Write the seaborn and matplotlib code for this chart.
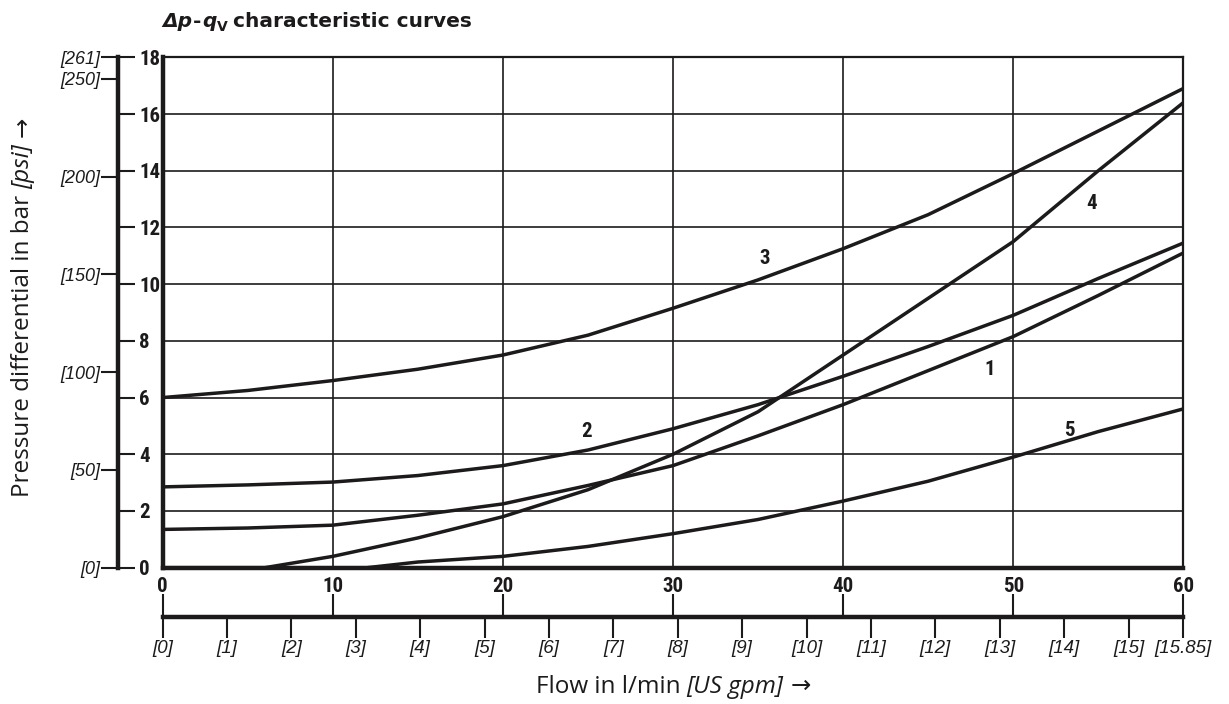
import matplotlib
matplotlib.use("Agg")
import matplotlib.pyplot as plt
from matplotlib import font_manager as fm
from matplotlib.font_manager import FontProperties
import numpy as np
import pandas as pd
import seaborn as sns

# ---------------- data ----------------
flow_c123 = [0, 5, 10, 15, 20, 25, 30, 35, 40, 45, 50, 55, 60]
curve1 = [1.35, 1.4, 1.5, 1.85, 2.25, 2.9, 3.6, 4.65, 5.75, 6.95, 8.15, 9.6, 11.1]
curve2 = [2.85, 2.92, 3.02, 3.25, 3.6, 4.15, 4.9, 5.75, 6.75, 7.8, 8.9, 10.2, 11.45]
curve3 = [6.0, 6.25, 6.6, 7.0, 7.5, 8.2, 9.15, 10.15, 11.25, 12.45, 13.9, 15.4, 16.9]
flow_c4 = [0, 6, 10, 15, 20, 25, 30, 35, 40, 45, 50, 55, 60]
curve4 = [0, 0, 0.4, 1.05, 1.8, 2.75, 4.0, 5.5, 7.5, 9.5, 11.5, 14.0, 16.4]
flow_c5 = [0, 12, 15, 20, 25, 30, 35, 40, 45, 50, 55, 60]
curve5 = [0, 0, 0.2, 0.4, 0.75, 1.2, 1.7, 2.35, 3.05, 3.9, 4.8, 5.6]

curve_names = ["1", "2", "3", "4", "5"]
bar_ticks = [0, 2, 4, 6, 8, 10, 12, 14, 16, 18]
psi_ticks = [0, 50, 100, 150, 200, 250, 261]
psi_labels = ["[0]", "[50]", "[100]", "[150]", "[200]", "[250]", "[261]"]
lpm_ticks = [0, 10, 20, 30, 40, 50, 60]
gpm_ticks = [0, 1, 2, 3, 4, 5, 6, 7, 8, 9, 10, 11, 12, 13, 14, 15, 15.85]
gpm_labels = ["[0]", "[1]", "[2]", "[3]", "[4]", "[5]", "[6]", "[7]", "[8]",
              "[9]", "[10]", "[11]", "[12]", "[13]", "[14]", "[15]", "[15.85]"]

BAR_TO_PSI = 14.5038
GPM_TO_LPM = 3.785411784

# label positions (flow l/min, bar)
label_pos = {"1": (48.6, 7.0), "2": (24.9, 4.8), "3": (35.4, 10.9),
             "4": (54.6, 12.85), "5": (53.3, 4.85)}

# ---------------- style ----------------
sns.set_theme(style="white")
plt.rcParams["font.family"] = ["Liberation Sans", "DejaVu Sans"]

INK = "#1c1a1a"


def _is_bold(f):
    w = f.weight
    if isinstance(w, (int, float)):
        return w >= 600
    return str(w).lower() in ("bold", "semibold", "demibold", "heavy",
                              "black", "extra bold", "600", "700", "800")


def _pick(preds):
    for pred in preds:
        for f in fm.fontManager.ttflist:
            try:
                if pred(f):
                    return f.fname
            except Exception:
                pass
    return None


narrow_path = _pick([
    lambda f: f.name == "Liberation Sans Narrow" and _is_bold(f) and f.style == "normal",
    lambda f: f.name == "Roboto Condensed" and _is_bold(f) and f.style == "normal",
    lambda f: ("Condensed" in f.name or "Narrow" in f.name) and _is_bold(f)
    and f.style == "normal",
    lambda f: str(f.stretch) in ("condensed", "semi-condensed") and _is_bold(f)
    and f.style == "normal",
])


def narrow(size):
    if narrow_path:
        return FontProperties(fname=narrow_path, size=size)
    return FontProperties(family=["Liberation Sans"], weight="bold", size=size)


frames = []
for name, fx, fy in zip(curve_names,
                        [flow_c123, flow_c123, flow_c123, flow_c4, flow_c5],
                        [curve1, curve2, curve3, curve4, curve5]):
    frames.append(pd.DataFrame({"flow": fx, "dp": fy, "curve": name}))
df = pd.concat(frames, ignore_index=True)

W, H = 1229, 704


def box(l, t, r, b):
    return [l / W, 1 - b / H, (r - l) / W, (b - t) / H]


fig = plt.figure(figsize=(W / 100, H / 100), dpi=100)
fig.patch.set_facecolor("white")

X0, X1, YT, YB = 162.7, 1183.3, 57.3, 567.7
ax = fig.add_axes(box(X0, YT, X1, YB))
ax.set_facecolor("white")

sns.lineplot(data=df, x="flow", y="dp", hue="curve", units="curve",
             estimator=None, sort=False, legend=False,
             palette={n: INK for n in curve_names}, linewidth=2.5, ax=ax,
             zorder=3)

ax.set_xlim(0, 60)
ax.set_ylim(0, 18)
ax.set_xticks(lpm_ticks)
ax.set_yticks(bar_ticks)
ax.grid(True, color=INK, linewidth=1.2)
ax.set_axisbelow(True)
ax.set_xlabel("")
ax.set_ylabel("")
ax.tick_params(axis="y", left=False, labelleft=False, length=0)
ax.tick_params(axis="x", bottom=False, length=0, pad=7, colors=INK)
for lab in ax.get_xticklabels():
    lab.set_fontproperties(narrow(15))
for s in ["left", "bottom"]:
    ax.spines[s].set_linewidth(3.2)
    ax.spines[s].set_color(INK)
for s in ["top", "right"]:
    ax.spines[s].set_linewidth(1.6)
    ax.spines[s].set_color(INK)
for s in ax.spines.values():
    s.set_zorder(4)

for name, (lx, ly) in label_pos.items():
    ax.text(lx, ly, name, fontproperties=narrow(15), color=INK,
            ha="center", va="center", zorder=5)

# ---------------- psi / bar scale on the left ----------------
PX = 118.0
ax_psi = fig.add_axes(box(PX, YT, PX + 0.3, YB))
ax_psi.patch.set_visible(False)
ax_psi.set_ylim(0, 18 * BAR_TO_PSI)
ax_psi.set_xticks([])
ax_psi.set_yticks(psi_ticks)
ax_psi.set_yticklabels(psi_labels)
ax_psi.tick_params(axis="y", direction="out", length=12, width=1.5,
                   pad=1, colors=INK, labelsize=13)
for lab in ax_psi.get_yticklabels():
    lab.set_fontstyle("italic")
for s in ["top", "right", "bottom"]:
    ax_psi.spines[s].set_visible(False)
ax_psi.spines["left"].set_linewidth(3.2)
ax_psi.spines["left"].set_color(INK)

ax_bar = ax_psi.twinx()
ax_bar.set_ylim(0, 18)
ax_bar.set_yticks(bar_ticks)
ax_bar.set_yticklabels([str(t) for t in bar_ticks])
ax_bar.tick_params(axis="y", direction="out", length=12, width=1.5, pad=3,
                   colors=INK)
for lab in ax_bar.get_yticklabels():
    lab.set_fontproperties(narrow(15))
for s in ax_bar.spines.values():
    s.set_visible(False)

# ---------------- l/min / gpm scale at the bottom ----------------
FY = 616.5
ax_fl = fig.add_axes(box(X0, FY - 0.3, X1, FY))
ax_fl.patch.set_visible(False)
ax_fl.set_xlim(0, 60 / GPM_TO_LPM)
ax_fl.set_yticks([])
ax_fl.set_xticks(gpm_ticks)
ax_fl.set_xticklabels(gpm_labels)
ax_fl.tick_params(axis="x", direction="out", length=15, width=1.5, pad=2,
                  colors=INK, labelsize=13.5)
for lab in ax_fl.get_xticklabels():
    lab.set_fontstyle("italic")
for s in ["top", "left", "right"]:
    ax_fl.spines[s].set_visible(False)
ax_fl.spines["bottom"].set_linewidth(3.2)
ax_fl.spines["bottom"].set_color(INK)

ax_fl2 = ax_fl.twiny()
ax_fl2.set_xlim(0, 60)
ax_fl2.set_xticks(lpm_ticks)
ax_fl2.tick_params(axis="x", direction="out", length=16, width=1.5,
                   labeltop=False, colors=INK)
for s in ax_fl2.spines.values():
    s.set_visible(False)

# ---------------- texts built from pieces ----------------
renderer = fig.canvas.get_renderer()


def chain(pieces, x_px, y_px, rotation=0, center=True):
    """pieces: list of (text, props, (gap_px, shift_px))."""
    texts = []
    for s, kw, _ in pieces:
        t = fig.text(0, 0, s, rotation=rotation, rotation_mode="anchor",
                     ha="left", va="baseline", color=INK, **kw)
        texts.append(t)
    lengths = []
    for t in texts:
        bb = t.get_window_extent(renderer)
        lengths.append(bb.height if rotation == 90 else bb.width)
    total = sum(lengths) + sum(p[2][0] for p in pieces)
    pos = -total / 2 if center else 0.0
    for t, L, (_, _, off) in zip(texts, lengths, pieces):
        gap, shift = off
        pos += gap
        if rotation == 90:
            t.set_position(((x_px + shift) / W, 1 - (y_px - pos) / H))
        else:
            t.set_position(((x_px + pos) / W, 1 - (y_px + shift) / H))
        pos += L
    return texts


LBL = ["Open Sans", "DejaVu Sans"]
TTL = ["DejaVu Sans"]
ARW = ["DejaVu Sans"]
FS = 17.5
SP = 6.5
TS = 14.5

# title
chain([
    ("Δp", dict(family=TTL, weight="bold", style="italic", size=TS), (0, 0)),
    ("-", dict(family=TTL, weight="bold", size=TS), (0.5, 0)),
    ("q", dict(family=TTL, weight="bold", style="italic", size=TS), (0.5, 0)),
    ("V", dict(family=TTL, weight="bold", size=10), (0.5, 4)),
    ("characteristic curves", dict(family=TTL, weight="bold", size=TS), (5.5, 0)),
], X0, 27, center=False)

# y label
chain([
    ("Pressure differential in bar", dict(family=LBL, size=FS), (0, 0)),
    ("[psi]", dict(family=LBL, style="italic", size=FS), (SP, 0)),
    ("→", dict(family=ARW, size=FS), (SP, 0)),
], 29, 307, rotation=90)

# x label
chain([
    ("Flow in l/min", dict(family=LBL, size=FS), (0, 0)),
    ("[US gpm]", dict(family=LBL, style="italic", size=FS), (SP, 0)),
    ("→", dict(family=ARW, size=FS), (SP, 0)),
], (X0 + X1) / 2, 693)

fig.savefig("out.png", dpi=100, facecolor="white")
